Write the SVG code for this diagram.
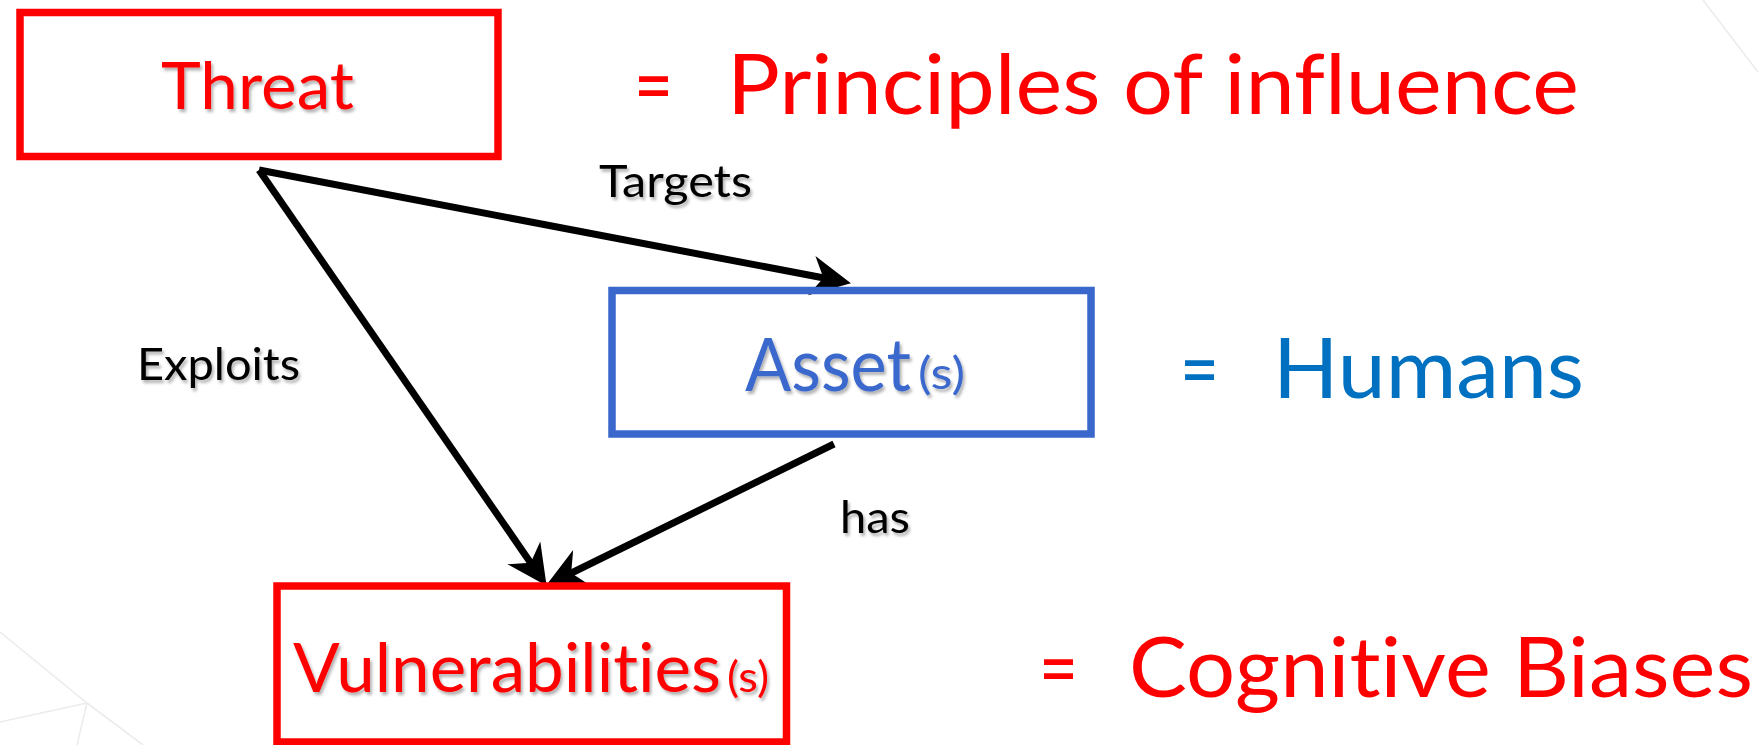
<svg xmlns="http://www.w3.org/2000/svg" width="1758" height="745" viewBox="0 0 1758 745">
  <style>
    .box { fill: none; stroke-width: 7.5; }
    .red { fill: #FF0000; }
    .t { font-family: Lato, "Open Sans", "Liberation Sans", sans-serif; font-variant-ligatures: none; font-feature-settings: "liga" 0, "clig" 0, "dlig" 0; }
    .lbl { fill: #000000; font-size: 44px; }
    .conn { fill: none; stroke: #000000; stroke-width: 7; stroke-linecap: butt; }
    .bg { fill: none; stroke: #ECECEC; stroke-width: 1.6; }
  </style>
  <defs>
    <filter id="shadow" x="-10%" y="-20%" width="130%" height="150%">
      <feDropShadow dx="2" dy="3" stdDeviation="1.5" flood-color="#000000" flood-opacity="0.3"/>
    </filter>
    <marker id="arrow" markerUnits="userSpaceOnUse" markerWidth="46" markerHeight="42" viewBox="0 0 46 42" refX="17" refY="21" orient="auto" overflow="visible">
      <path d="M43,21 L3,1 L15,21 L3,41 Z" fill="#000000"/>
    </marker>
  </defs>
  <rect x="0" y="0" width="1758" height="745" fill="#FFFFFF"/>

  <g id="background">
    <path class="bg" d="M0,632 L87,703 L143,745 M87,703 L0,722 M87,703 L77,745"/>
    <path class="bg" d="M1703,0 L1758,72"/>
  </g>

  <g id="connectors">
    <path class="conn" d="M259,170 L825.4,278.3" marker-end="url(#arrow)"/>
    <path class="conn" d="M259,170 L531.8,564.4" marker-end="url(#arrow)"/>
    <path class="conn" d="M834,444 L569.4,574" marker-end="url(#arrow)"/>
    <text class="t lbl" x="599" y="197" textLength="153" lengthAdjust="spacingAndGlyphs" filter="url(#shadow)">Targets</text>
    <text class="t lbl" x="137" y="380" textLength="163" lengthAdjust="spacingAndGlyphs" filter="url(#shadow)">Exploits</text>
    <text class="t lbl" x="840" y="533" textLength="70" lengthAdjust="spacingAndGlyphs" filter="url(#shadow)">has</text>
  </g>

  <g id="threat">
    <rect class="box" x="20" y="12.5" width="478" height="144" stroke="#FF0000"/>
    <text class="t red" x="161" y="109" font-size="66" textLength="193" lengthAdjust="spacingAndGlyphs" filter="url(#shadow)">Threat</text>
  </g>

  <g id="threat-def">
    <text class="t red" y="114" font-size="83"><tspan x="634" textLength="39" lengthAdjust="spacingAndGlyphs">=</tspan><tspan x="727" textLength="852" lengthAdjust="spacingAndGlyphs">Principles of influence</tspan></text>
  </g>

  <g id="asset">
    <rect class="box" x="612" y="290.5" width="479" height="143.5" stroke="#3A67CC"/>
    <text class="t" y="391" font-size="74" fill="#3A67CC" filter="url(#shadow)"><tspan x="745" textLength="166" lengthAdjust="spacingAndGlyphs">Asset</tspan><tspan x="918" dy="-2" font-size="44" textLength="47" lengthAdjust="spacingAndGlyphs">(s)</tspan></text>
  </g>

  <g id="asset-def">
    <text class="t" y="398" font-size="83" fill="#0070C0"><tspan x="1180" textLength="39" lengthAdjust="spacingAndGlyphs">=</tspan><tspan x="1273" textLength="311" lengthAdjust="spacingAndGlyphs">Humans</tspan></text>
  </g>

  <g id="vulnerabilities">
    <rect class="box" x="277" y="586" width="509.5" height="156" stroke="#FF0000"/>
    <text class="t red" y="692" font-size="68" filter="url(#shadow)"><tspan x="293" textLength="428" lengthAdjust="spacingAndGlyphs">Vulnerabilities</tspan><tspan x="727" font-size="42" textLength="42" lengthAdjust="spacingAndGlyphs">(s)</tspan></text>
  </g>

  <g id="vulnerabilities-def">
    <text class="t red" y="697" font-size="83"><tspan x="1039" textLength="39" lengthAdjust="spacingAndGlyphs">=</tspan><tspan x="1129" textLength="624" lengthAdjust="spacingAndGlyphs">Cognitive Biases</tspan></text>
  </g>
</svg>
